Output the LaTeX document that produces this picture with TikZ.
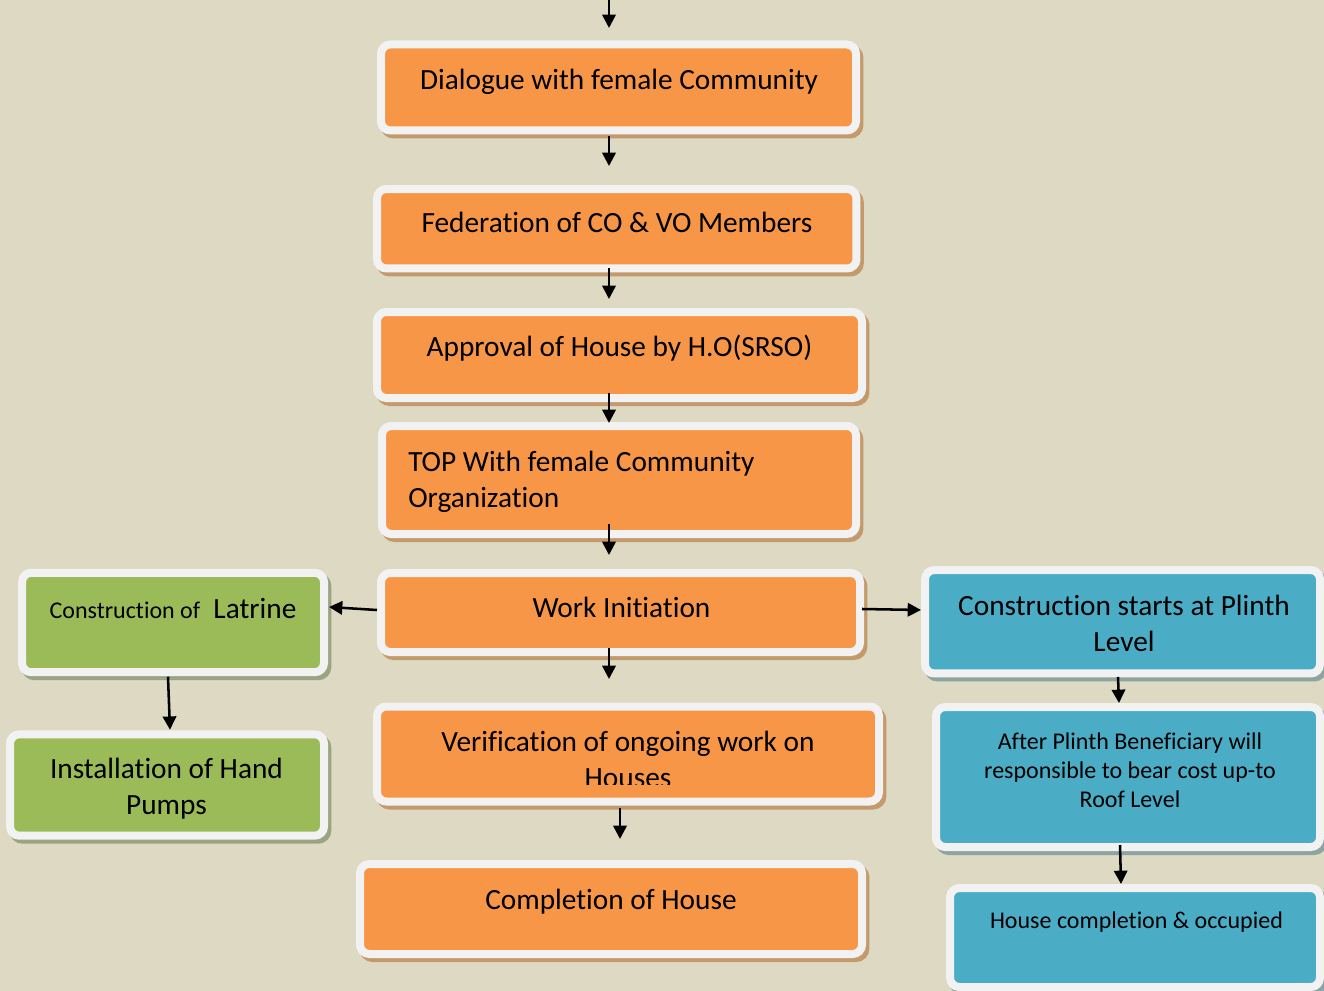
\documentclass[tikz,border=0pt]{standalone}
\usepackage{fontspec}
\setmainfont{Carlito}[Ligatures=NoCommon]
\usetikzlibrary{arrows.meta,calc}
\definecolor{bgtan}{HTML}{DDD9C3}
\definecolor{borderwhite}{HTML}{F2F2F2}
\definecolor{orangefill}{HTML}{F79646}
\definecolor{orangeshadow}{HTML}{C49A6C}
\definecolor{greenfill}{HTML}{9BBB59}
\definecolor{greenshadow}{HTML}{9AA482}
\definecolor{bluefill}{HTML}{4BACC6}
\definecolor{blueshadow}{HTML}{8DA4A0}
\begin{document}
\begin{tikzpicture}[x=0.75pt,y=-0.75pt,
  shadowed box/.style 2 args={rectangle, rounded corners=7pt, inner sep=0pt, outer sep=0pt,
    fill=#1, draw=borderwhite, line width=6pt,
    preaction={fill=#2, draw=#2, line width=6pt, transform canvas={shift={(2.5pt,-3pt)}}}},
  orangebox/.style={shadowed box={orangefill}{orangeshadow}},
  greenbox/.style={shadowed box={greenfill}{greenshadow}},
  bluebox/.style={shadowed box={bluefill}{blueshadow}},
  bigtext/.style={font=\fontsize{22}{27}\selectfont, inner sep=0pt, align=center, anchor=base},
  smalltext/.style={font=\fontsize{18}{21.75}\selectfont, inner sep=0pt, align=center, anchor=base},
  arr/.style={line width=1.9pt, -{Triangle[length=10pt,width=10pt]}},
]
\useasboundingbox (0,0) rectangle (1324,991);
\fill[bgtan] (0,0) rectangle (1324,991);

% boxes
\node[orangebox, minimum width=356.25pt, minimum height=64.5pt] (dlg) at (618.5,87.5) {};
\node[orangebox, minimum width=359.6pt, minimum height=59.6pt] (fed) at (616.75,228.75) {};
\node[orangebox, minimum width=363.75pt, minimum height=64.5pt] (app) at (619.5,355) {};
\node[orangebox, minimum width=355.5pt, minimum height=81pt] (top) at (619,480) {};
\node[orangebox, minimum width=359.25pt, minimum height=59.25pt] (work) at (620.5,612.5) {};
\node[orangebox, minimum width=376.5pt, minimum height=71.25pt] (ver) at (628,754) {};
\node[orangebox, minimum width=376.5pt, minimum height=67.5pt] (comp) at (611,909) {};
\node[greenbox, minimum width=226.5pt, minimum height=74.6pt] (lat) at (173,622.5) {};
\node[greenbox, minimum width=235.5pt, minimum height=76.1pt] (hand) at (167,785) {};
\node[bluebox, minimum width=296.25pt, minimum height=77.6pt] (plin) at (1122.5,621.75) {};
\node[bluebox, minimum width=288pt, minimum height=105pt] (aft) at (1128,777) {};
\node[bluebox, minimum width=277.5pt, minimum height=74.25pt] (hse) at (1135,937.5) {};

% texts (multi-line nodes: base = baseline of last line)
\node[bigtext] (dlgt) at (619,90) {Dialogue with female Community};
\node[bigtext] (fedt) at (617,233) {Federation of CO \& VO Members};
\node[bigtext] (appt) at (619.5,356) {Approval of House by H.O(SRSO)};
\node[bigtext, align=left, anchor=base west] (topt) at (408,507) {TOP With female Community\\Organization};
\node[bigtext] (workt) at (621.5,617) {Work Initiation};
\begin{scope}
\clip (370,700) rectangle (890,784);
\node[bigtext] (vert) at (628,787) {Verification of ongoing work on\\Houses};
\end{scope}
\node[bigtext] (compt) at (611,909) {Completion of House};
\node[bigtext] (latt) at (173,618) {{\fontsize{18}{21.75}\selectfont Construction of}\ \ Latrine};
\node[bigtext] (handt) at (166.5,814) {Installation of Hand\\Pumps};
\node[bigtext] (plint) at (1124,651) {Construction starts at Plinth\\Level};
\node[smalltext] (aftt) at (1130,807) {After Plinth Beneficiary will\\responsible to bear cost up-to\\Roof Level};
\node[smalltext] (hset) at (1136.5,928) {House completion \& occupied};

% arrows
\coordinate (entry) at (609,-3);
\draw[arr] (entry) -- ([shift={(-9.5,-16.5)}]dlg.north);
\draw[arr] ([shift={(-9.5,5.5)}]dlg.south) -- ([shift={(-7.75,-23)}]fed.north);
\draw[arr] ([shift={(-7.75,-0.5)}]fed.south) -- ([shift={(-10.5,-13)}]app.north);
\draw[arr] ([shift={(-10.5,-5)}]app.south) -- ([shift={(-10,-3)}]top.north);
\draw[arr] ([shift={(-10,-10)}]top.south) -- ([shift={(-11.5,-18)}]work.north);
\draw[arr] ([shift={(-11.5,-4)}]work.south) -- ([shift={(-19,-27.5)}]ver.north);
\draw[arr] ([shift={(-8,6)}]ver.south) -- ([shift={(9,-25)}]comp.north);
\draw[arr] ([shift={(-4,-2.5)}]work.west) -- ([shift={(5,-15.5)}]lat.east);
\draw[arr] ([shift={(2,-3.5)}]work.east) -- ([shift={(-4,-11.75)}]plin.west);
\draw[arr] ([shift={(-5,4.5)}]lat.south) -- ([shift={(3,-4.5)}]hand.north);
\draw[arr] ([shift={(-4.5,3.5)}]plin.south) -- ([shift={(-9,-4)}]aft.north);
\draw[arr] ([shift={(-8,-2)}]aft.south) -- ([shift={(-14,-4)}]hse.north);
\end{tikzpicture}
\end{document}
